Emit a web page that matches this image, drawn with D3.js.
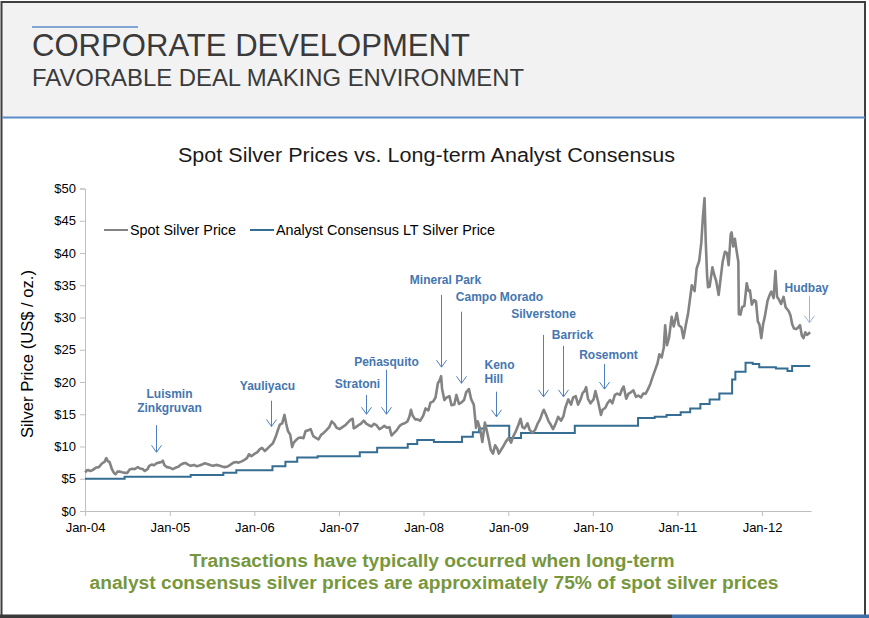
<!DOCTYPE html>
<html>
<head>
<meta charset="utf-8">
<script src="https://cdn.jsdelivr.net/npm/d3@7/dist/d3.min.js"></script>
<style>
html,body{margin:0;padding:0;background:#fff;}
svg{display:block;font-family:"Liberation Sans",Arial,sans-serif;}
</style>
</head>
<body>
<svg id="chart" width="869" height="618"></svg>
<script>
// ---------------- DATA ----------------
const yTicks = [0, 5, 10, 15, 20, 25, 30, 35, 40, 45, 50];
const xTickDates = ["2004-01-01","2005-01-01","2006-01-01","2007-01-01","2008-01-01","2009-01-01","2010-01-01","2011-01-01","2012-01-01"];
const xTickLabels = ["Jan-04","Jan-05","Jan-06","Jan-07","Jan-08","Jan-09","Jan-10","Jan-11","Jan-12"];
const seriesNames = ["Spot Silver Price", "Analyst Consensus LT Silver Price"];

const spotSeries = [
["2004-01-02",5.97],["2004-01-09",6.30],["2004-01-16",6.35],["2004-01-23",6.20],["2004-02-01",6.30],["2004-02-13",6.60],["2004-02-20",6.75],
["2004-03-01",6.80],["2004-03-15",7.40],["2004-03-25",7.60],["2004-04-02",8.20],["2004-04-09",7.70],["2004-04-16",7.60],["2004-04-26",6.50],
["2004-05-05",5.90],["2004-05-12",5.70],["2004-05-20",6.10],["2004-06-01",6.10],["2004-06-15",5.95],["2004-07-01",5.90],["2004-07-12",6.45],
["2004-07-22",6.55],["2004-08-02",6.50],["2004-08-16",6.80],["2004-08-25",6.60],["2004-09-06",6.50],["2004-09-15",6.20],["2004-09-27",6.50],
["2004-10-04",7.00],["2004-10-15",7.20],["2004-10-25",7.10],["2004-11-05",7.40],["2004-11-15",7.50],["2004-11-26",7.60],["2004-12-02",7.80],
["2004-12-09",7.10],["2004-12-20",6.80],["2005-01-03",6.70],["2005-01-14",6.50],["2005-01-25",6.70],["2005-02-07",6.85],["2005-02-18",7.20],
["2005-03-01",7.40],["2005-03-10",7.45],["2005-03-21",7.20],["2005-04-01",7.00],["2005-04-15",7.15],["2005-04-26",6.95],["2005-05-09",7.05],
["2005-05-20",7.20],["2005-06-01",7.40],["2005-06-15",7.25],["2005-06-27",7.10],["2005-07-08",7.00],["2005-07-20",7.15],["2005-08-01",7.05],
["2005-08-15",6.90],["2005-08-26",6.80],["2005-09-08",6.90],["2005-09-20",7.20],["2005-10-03",7.50],["2005-10-14",7.60],["2005-10-25",7.50],
["2005-11-07",7.70],["2005-11-18",7.90],["2005-11-30",8.20],["2005-12-09",8.80],["2005-12-19",8.50],["2006-01-03",8.90],["2006-01-13",9.10],
["2006-01-25",9.60],["2006-02-03",9.80],["2006-02-15",9.30],["2006-02-27",9.70],["2006-03-10",10.10],["2006-03-22",10.50],["2006-04-03",11.50],
["2006-04-13",12.60],["2006-04-21",13.40],["2006-05-01",13.60],["2006-05-11",14.90],["2006-05-18",13.60],["2006-05-26",12.40],["2006-06-05",11.80],
["2006-06-13",9.90],["2006-06-20",10.60],["2006-06-30",11.00],["2006-07-10",11.30],["2006-07-20",11.40],["2006-08-01",11.30],["2006-08-10",12.40],
["2006-08-21",12.50],["2006-09-01",12.70],["2006-09-12",11.60],["2006-09-25",11.30],["2006-10-05",11.10],["2006-10-16",11.80],["2006-10-27",12.10],
["2006-11-07",12.50],["2006-11-20",13.00],["2006-12-01",13.90],["2006-12-12",13.50],["2006-12-22",12.90],["2007-01-05",12.70],["2007-01-16",13.00],
["2007-01-29",13.30],["2007-02-08",13.70],["2007-02-22",14.20],["2007-03-01",14.30],["2007-03-06",12.80],["2007-03-15",13.00],["2007-03-26",13.30],
["2007-04-05",13.50],["2007-04-18",14.00],["2007-04-30",13.50],["2007-05-10",13.30],["2007-05-22",13.10],["2007-06-01",13.50],["2007-06-12",13.30],
["2007-06-25",12.70],["2007-07-05",12.90],["2007-07-16",13.20],["2007-07-27",12.90],["2007-08-07",13.00],["2007-08-16",11.70],["2007-08-27",12.10],
["2007-09-07",12.50],["2007-09-20",13.20],["2007-10-01",13.50],["2007-10-12",13.60],["2007-10-24",13.90],["2007-11-01",14.60],["2007-11-08",15.70],
["2007-11-15",14.80],["2007-11-26",14.20],["2007-12-06",14.20],["2007-12-18",14.00],["2007-12-31",14.80],["2008-01-10",15.90],["2008-01-22",15.60],
["2008-01-31",16.80],["2008-02-12",17.00],["2008-02-22",17.60],["2008-03-03",19.80],["2008-03-10",20.20],["2008-03-17",20.90],["2008-03-21",19.00],
["2008-03-31",17.20],["2008-04-10",17.60],["2008-04-22",17.80],["2008-05-01",16.40],["2008-05-13",16.50],["2008-05-22",18.00],["2008-06-02",16.60],
["2008-06-12",16.80],["2008-06-24",17.20],["2008-07-03",18.40],["2008-07-15",18.90],["2008-07-25",17.30],["2008-08-05",16.50],["2008-08-15",12.90],
["2008-08-22",13.90],["2008-09-02",12.60],["2008-09-11",10.70],["2008-09-22",13.70],["2008-10-01",12.30],["2008-10-09",11.00],["2008-10-17",9.50],
["2008-10-27",8.90],["2008-11-05",10.20],["2008-11-14",9.70],["2008-11-21",8.90],["2008-12-01",9.50],["2008-12-10",10.00],["2008-12-22",10.80],
["2009-01-02",11.30],["2009-01-13",10.60],["2009-01-23",11.60],["2009-02-03",12.40],["2009-02-13",13.30],["2009-02-23",14.30],["2009-03-03",13.00],
["2009-03-12",12.80],["2009-03-25",13.60],["2009-04-03",12.60],["2009-04-15",12.10],["2009-04-27",12.60],["2009-05-07",13.50],["2009-05-18",14.20],
["2009-05-29",15.30],["2009-06-03",15.70],["2009-06-12",15.00],["2009-06-24",13.90],["2009-07-03",13.40],["2009-07-13",12.70],["2009-07-24",13.50],
["2009-08-04",14.60],["2009-08-17",14.00],["2009-08-27",14.70],["2009-09-04",16.00],["2009-09-17",17.30],["2009-09-29",16.50],["2009-10-08",17.60],
["2009-10-19",17.80],["2009-10-29",16.50],["2009-11-09",17.30],["2009-11-18",18.30],["2009-11-26",18.60],["2009-12-03",19.20],["2009-12-11",17.40],
["2009-12-22",16.70],["2010-01-04",17.30],["2010-01-12",18.60],["2010-01-22",17.20],["2010-02-05",14.90],["2010-02-12",15.70],["2010-02-24",16.00],
["2010-03-05",16.70],["2010-03-16",17.20],["2010-03-26",16.70],["2010-04-06",18.00],["2010-04-16",18.20],["2010-04-28",18.00],["2010-05-06",18.80],
["2010-05-14",19.30],["2010-05-25",17.40],["2010-06-04",18.20],["2010-06-14",18.40],["2010-06-25",18.70],["2010-07-06",17.70],["2010-07-16",17.90],
["2010-07-28",17.60],["2010-08-06",18.20],["2010-08-17",18.20],["2010-08-27",18.90],["2010-09-06",19.70],["2010-09-16",20.80],["2010-09-28",22.00],
["2010-10-07",22.90],["2010-10-15",24.30],["2010-10-25",23.80],["2010-11-03",25.30],["2010-11-09",28.80],["2010-11-17",25.70],["2010-11-26",26.90],
["2010-12-07",30.10],["2010-12-16",28.60],["2010-12-29",30.70],["2011-01-07",28.80],["2011-01-18",28.50],["2011-01-27",26.80],["2011-02-07",29.00],
["2011-02-16",30.60],["2011-02-24",32.80],["2011-03-04",35.00],["2011-03-16",34.10],["2011-03-25",37.60],["2011-04-05",38.80],["2011-04-14",41.60],
["2011-04-21",45.60],["2011-04-28",48.50],["2011-05-03",42.00],["2011-05-09",36.50],["2011-05-13",34.70],["2011-05-20",34.80],["2011-06-01",37.80],
["2011-06-09",36.60],["2011-06-17",35.70],["2011-06-28",33.50],["2011-07-06",35.90],["2011-07-15",38.60],["2011-07-25",40.20],["2011-08-03",40.00],
["2011-08-10",38.10],["2011-08-19",42.90],["2011-08-23",43.20],["2011-08-30",41.00],["2011-09-06",42.20],["2011-09-14",40.20],["2011-09-21",38.60],
["2011-09-23",30.50],["2011-09-30",30.45],["2011-10-07",31.60],["2011-10-17",31.80],["2011-10-27",35.30],["2011-11-04",34.10],["2011-11-10",34.20],
["2011-11-18",32.00],["2011-11-28",32.70],["2011-12-06",32.50],["2011-12-14",29.40],["2011-12-21",28.90],["2011-12-29",26.80],["2012-01-06",29.00],
["2012-01-13",30.10],["2012-01-25",32.60],["2012-02-03",33.50],["2012-02-10",34.00],["2012-02-20",33.00],["2012-02-28",37.20],["2012-03-06",33.20],
["2012-03-14",32.80],["2012-03-23",32.10],["2012-04-03",33.20],["2012-04-12",31.60],["2012-04-25",31.00],["2012-05-03",30.30],["2012-05-10",29.00],
["2012-05-18",28.30],["2012-05-28",28.20],["2012-06-06",28.50],["2012-06-13",28.80],["2012-06-21",27.20],["2012-06-28",26.80],["2012-07-06",27.70],
["2012-07-13",27.30],["2012-07-20",27.50],["2012-07-27",27.70]
];

const consensusSeries = [
["2004-01-01",5.0],["2004-06-20",5.3],["2005-04-01",5.58],["2005-08-20",5.94],["2005-10-15",6.3],["2006-03-20",6.95],
["2006-05-15",7.65],["2006-07-05",8.3],["2006-10-01",8.5],["2007-04-01",9.1],["2007-06-15",9.8],["2007-10-25",10.4],
["2007-12-05",11.0],["2008-02-15",10.7],["2008-06-15",11.5],["2008-08-01",12.2],["2008-08-28",12.8],["2008-09-25",13.2],
["2009-01-05",11.3],["2009-02-25",12.1],["2009-10-15",13.2],["2010-07-15",14.4],["2010-09-25",14.6],["2010-11-15",14.9],
["2011-01-15",15.3],["2011-02-25",15.9],["2011-04-10",16.6],["2011-05-20",17.3],["2011-07-01",18.2],["2011-08-25",20.4],
["2011-09-08",21.6],["2011-10-22",23.0],["2011-11-22",22.8],["2011-12-20",22.3],["2012-03-01",22.1],["2012-04-20",21.7],
["2012-05-10",22.5],["2012-07-27",22.5]
];

const dealLabels = [["Luismin","Zinkgruvan"],["Yauliyacu"],["Stratoni"],["Peñasquito"],["Mineral Park"],["Campo Morado"],
  ["Keno","Hill"],["Silverstone"],["Barrick"],["Rosemont"],["Hudbay"]];
const dealDates = ["2004-11-01","2006-03-13","2007-04-27","2007-07-25","2008-03-16","2008-06-13",
  "2008-11-08","2009-06-01","2009-08-26","2010-02-20","2012-07-22"];

const footnoteLines = ["Transactions have typically occurred when long-term",
  "analyst consensus silver prices are approximately 75% of spot silver prices"];

// ---------------- LAYOUT ----------------
// annotation layout: label offset (px) from arrow x, label baseline (price units), arrow top / tip (price units), text anchor
const annLayout = [
  {dx:13, ly:17.5, top:13.3, tip:9.1, anchor:"middle"},
  {dx:-4, ly:18.7, top:17.1, tip:13.1, anchor:"middle"},
  {dx:-9, ly:19.0, top:18.0, tip:15.0, anchor:"middle"},
  {dx:0, ly:22.5, top:21.9, tip:15.0, anchor:"middle"},
  {dx:4, ly:35.2, top:33.5, tip:22.3, anchor:"middle"},
  {dx:38, ly:32.6, top:30.9, tip:19.8, anchor:"middle"},
  {dx:-12, ly:22.0, top:18.5, tip:14.6, anchor:"start"},
  {dx:0, ly:29.9, top:27.3, tip:17.7, anchor:"middle"},
  {dx:9, ly:26.7, top:25.6, tip:17.7, anchor:"middle"},
  {dx:4, ly:23.6, top:22.8, tip:18.9, anchor:"middle"},
  {dx:-3, ly:34.0, top:33.3, tip:29.2, anchor:"middle"}
];
const footnoteWidths = [485, 689];

const parse = d3.timeParse("%Y-%m-%d");
const svg = d3.select("#chart");
const W = 869, H = 618;

// page background & frame
svg.append("rect").attr("x",0).attr("y",0).attr("width",W).attr("height",H).attr("fill","#fff");
svg.append("rect").attr("x",2).attr("y",2).attr("width",863).attr("height",115).attr("fill","#f2f2f2");
svg.append("line").attr("x1",1.5).attr("x2",1.5).attr("y1",1).attr("y2",615).attr("stroke","#3f3f3f").attr("stroke-width",2);
svg.append("line").attr("x1",865).attr("x2",865).attr("y1",1).attr("y2",615).attr("stroke","#3f3f3f").attr("stroke-width",2);
svg.append("line").attr("x1",1).attr("x2",866).attr("y1",2).attr("y2",2).attr("stroke","#3f3f3f").attr("stroke-width",2);
svg.append("line").attr("x1",2).attr("x2",865).attr("y1",117.5).attr("y2",117.5).attr("stroke","#5b8cc8").attr("stroke-width",2);
svg.append("rect").attr("x",0).attr("y",614.5).attr("width",672).attr("height",4).attr("fill","#3a3a3a");
svg.append("rect").attr("x",672).attr("y",614.5).attr("width",197).attr("height",4).attr("fill","#3f6fa8");

// header
svg.append("line").attr("x1",32).attr("x2",138).attr("y1",27).attr("y2",27).attr("stroke","#5b8cc8").attr("stroke-width",1.5);
svg.append("text").attr("x",32).attr("y",56).attr("font-size",31).attr("fill","#3a3a3a")
  .attr("textLength",438).attr("lengthAdjust","spacingAndGlyphs").text("CORPORATE DEVELOPMENT");
svg.append("text").attr("x",32).attr("y",86).attr("font-size",23).attr("fill","#3a3a3a")
  .attr("textLength",492).attr("lengthAdjust","spacingAndGlyphs").text("FAVORABLE DEAL MAKING ENVIRONMENT");

// chart title
svg.append("text").attr("x",178).attr("y",162).attr("font-size",20).attr("fill","#1a1a1a")
  .attr("textLength",497).attr("lengthAdjust","spacingAndGlyphs")
  .text("Spot Silver Prices vs. Long-term Analyst Consensus");

// scales
const t0 = parse("2004-01-01"), t12 = parse("2012-01-01"), tEnd = parse("2012-07-31");
const xBase = d3.scaleTime().domain([t0, t12]).range([85, 762]);
const x = d3.scaleTime().domain([t0, tEnd]).range([85, xBase(tEnd)]);
const y = d3.scaleLinear().domain([0, 50]).range([511, 188.5]);

// axes
const yAxis = d3.axisLeft(y).tickValues(yTicks).tickSize(5).tickPadding(4).tickFormat(d => "$" + d);
const gy = svg.append("g").attr("transform","translate(85,0)").call(yAxis);
gy.selectAll("path,line").attr("stroke","#bfbfbf");
gy.selectAll("text").attr("font-size",13).attr("fill","#000").attr("font-family","Liberation Sans, Arial, sans-serif");

const xAxis = d3.axisBottom(x).tickValues(xTickDates.map(parse)).tickSize(5).tickSizeOuter(0).tickPadding(7)
  .tickFormat((d,i) => xTickLabels[i]);
const gx = svg.append("g").attr("transform","translate(0,511)").call(xAxis);
gx.selectAll("path,line").attr("stroke","#bfbfbf");
gx.selectAll("text").attr("font-size",13).attr("fill","#000").attr("font-family","Liberation Sans, Arial, sans-serif");

// y axis title
svg.append("text").attr("transform","translate(33,354) rotate(-90)").attr("text-anchor","middle")
  .attr("font-size",16).attr("fill","#000")
  .attr("textLength",168).attr("lengthAdjust","spacingAndGlyphs").text("Silver Price (US$ / oz.)");

// lines
const spot = spotSeries.map(d => ({date: parse(d[0]), v: d[1]}));
const cons = consensusSeries.map(d => ({date: parse(d[0]), v: d[1]}));

svg.append("path").datum(cons)
  .attr("fill","none").attr("stroke","#356d93").attr("stroke-width",2)
  .attr("d", d3.line().x(d => x(d.date)).y(d => y(d.v)).curve(d3.curveStepAfter));

svg.append("path").datum(spot)
  .attr("fill","none").attr("stroke","#838383").attr("stroke-width",2.6).attr("stroke-linejoin","round")
  .attr("d", d3.line().x(d => x(d.date)).y(d => y(d.v)));

// legend
const legend = svg.append("g");
legend.append("line").attr("x1",104).attr("x2",128).attr("y1",230).attr("y2",230).attr("stroke","#838383").attr("stroke-width",2);
legend.append("text").attr("x",130).attr("y",235).attr("font-size",14.5).attr("fill","#000")
  .attr("textLength",106).attr("lengthAdjust","spacingAndGlyphs").text(seriesNames[0]);
legend.append("line").attr("x1",250).attr("x2",274).attr("y1",230).attr("y2",230).attr("stroke","#356d93").attr("stroke-width",2);
legend.append("text").attr("x",276).attr("y",235).attr("font-size",14.5).attr("fill","#000")
  .attr("textLength",219).attr("lengthAdjust","spacingAndGlyphs").text(seriesNames[1]);

// annotations
const ann = svg.append("g");
dealDates.forEach((ds, i) => {
  const L = annLayout[i];
  const ax = Math.round(x(parse(ds))) + 0.5;
  const yTop = y(L.top), yTip = y(L.tip);
  const col = i === 10 ? "#9ab5da" : "#4f7fbf";
  ann.append("line").attr("x1",ax).attr("x2",ax).attr("y1",yTop).attr("y2",yTip)
    .attr("stroke", col).attr("stroke-width",1);
  ann.append("path").attr("d", `M${ax-5},${yTip-7} L${ax},${yTip} L${ax+5},${yTip-7}`)
    .attr("fill","none").attr("stroke", col).attr("stroke-width",1);
  const tx = ax + L.dx;
  dealLabels[i].forEach((ln, j) => {
    ann.append("text").attr("x",tx).attr("y",y(L.ly) + j*13.5).attr("text-anchor",L.anchor)
      .attr("font-size",12).attr("font-weight","bold").attr("fill","#4576b0").text(ln);
  });
});

// footnote
footnoteLines.forEach((t, i) => {
  svg.append("text").attr("x",434 - footnoteWidths[i]/2 + (i === 0 ? -2 : 0)).attr("y",567 + i*22)
    .attr("font-size",18).attr("font-weight","bold").attr("fill","#77973d")
    .attr("textLength",footnoteWidths[i]).attr("lengthAdjust","spacingAndGlyphs").text(t);
});
</script>
</body>
</html>
